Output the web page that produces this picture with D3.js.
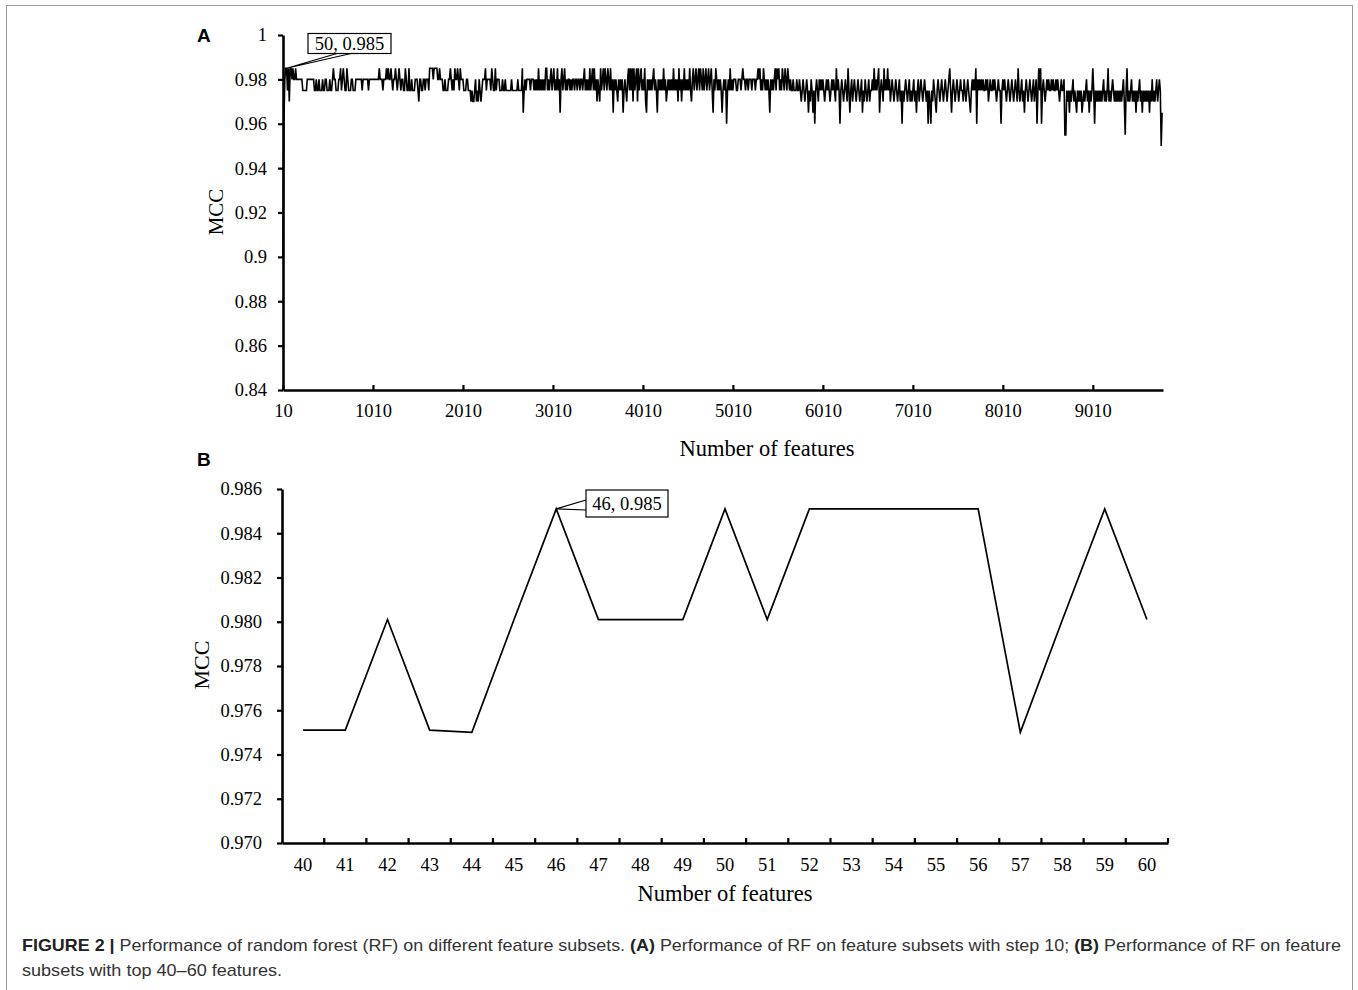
<!DOCTYPE html>
<html><head><meta charset="utf-8">
<script src="https://cdn.jsdelivr.net/npm/d3@7"></script>
<style>body{margin:0;background:#fff} svg{display:block}</style>
</head><body>
<script>
// ---------- Panel A data: MCC for feature subsets 10, 20, ..., 9780 (step 10) ----------
const mccA = [
.90,.96,.98,.985,.985,.975,.985,.97,.985,.985,
.98,.985,.98,.98,.985,.98,.98,.98,.98,.98,
.98,.98,.975,.975,.975,.975,.975,.98,.98,.98,
.98,.98,.98,.98,.98,.975,.975,.98,.975,.975,
.98,.975,.975,.975,.98,.975,.975,.98,.98,.975,
.975,.975,.98,.975,.975,.98,.985,.98,.98,.975,
.975,.975,.98,.98,.985,.975,.98,.985,.98,.975,
.975,.985,.98,.975,.975,.975,.98,.98,.975,.975,
.975,.98,.98,.98,.98,.98,.98,.98,.975,.98,
.98,.98,.98,.98,.98,.975,.98,.98,.98,.98,
.98,.98,.98,.98,.98,.98,.98,.985,.98,.98,
.98,.975,.98,.98,.98,.985,.98,.985,.98,.98,
.985,.98,.975,.98,.98,.985,.98,.975,.98,.985,
.98,.975,.98,.98,.975,.975,.985,.98,.975,.975,
.985,.975,.975,.98,.975,.975,.975,.98,.98,.98,
.975,.97,.98,.98,.975,.975,.98,.98,.975,.98,
.98,.98,.975,.985,.985,.985,.985,.98,.985,.985,
.985,.985,.98,.98,.985,.98,.98,.98,.975,.975,
.98,.975,.975,.975,.98,.98,.985,.98,.975,.98,
.975,.985,.98,.98,.985,.98,.975,.985,.98,.98,
.98,.975,.975,.975,.98,.98,.975,.975,.975,.97,
.975,.97,.97,.975,.98,.97,.975,.97,.98,.975,
.97,.975,.98,.98,.98,.985,.975,.98,.98,.98,
.98,.975,.985,.98,.975,.975,.985,.975,.98,.98,
.98,.975,.975,.975,.98,.975,.975,.98,.975,.975,
.975,.975,.975,.975,.98,.975,.975,.975,.975,.975,
.975,.98,.975,.975,.975,.975,.985,.965,.975,.98,
.975,.98,.98,.98,.98,.975,.98,.98,.98,.975,
.98,.975,.98,.975,.985,.975,.98,.975,.98,.975,
.98,.975,.985,.985,.975,.98,.975,.98,.985,.975,
.98,.985,.975,.98,.975,.985,.975,.98,.965,.98,
.985,.975,.98,.985,.975,.98,.975,.98,.98,.975,
.98,.975,.98,.98,.975,.98,.98,.975,.98,.98,
.975,.98,.98,.975,.98,.985,.975,.98,.975,.98,
.975,.985,.975,.98,.985,.975,.985,.975,.98,.97,
.98,.975,.97,.985,.975,.98,.985,.975,.985,.98,
.975,.985,.98,.975,.985,.975,.98,.965,.98,.975,
.98,.975,.97,.98,.975,.98,.975,.98,.965,.975,
.98,.975,.97,.98,.985,.975,.985,.975,.985,.97,
.985,.975,.98,.985,.97,.985,.975,.98,.985,.975,
.98,.975,.985,.97,.965,.98,.975,.98,.975,.98,
.975,.98,.985,.975,.98,.975,.965,.98,.975,.98,
.975,.98,.975,.985,.975,.98,.97,.975,.98,.975,
.98,.975,.98,.975,.985,.975,.98,.975,.98,.97,
.985,.975,.98,.97,.98,.975,.985,.975,.98,.975,
.98,.975,.985,.975,.97,.98,.985,.975,.98,.985,
.975,.98,.985,.975,.985,.98,.975,.985,.975,.98,
.985,.975,.98,.985,.975,.98,.985,.975,.965,.98,
.975,.985,.98,.975,.98,.975,.98,.975,.965,.975,
.98,.975,.98,.96,.975,.98,.975,.985,.975,.98,
.975,.98,.98,.98,.975,.975,.98,.98,.98,.975,
.98,.985,.98,.98,.975,.98,.98,.975,.98,.98,
.98,.975,.98,.98,.98,.975,.98,.98,.985,.98,
.985,.975,.98,.975,.985,.98,.975,.98,.975,.98,
.975,.965,.98,.975,.98,.975,.98,.985,.975,.985,
.98,.985,.975,.98,.975,.985,.98,.975,.985,.98,
.975,.985,.98,.975,.98,.975,.975,.98,.975,.975,
.975,.98,.975,.975,.98,.975,.97,.975,.98,.975,
.97,.975,.98,.975,.965,.975,.97,.98,.975,.965,
.975,.96,.975,.98,.975,.97,.98,.975,.98,.975,
.98,.975,.97,.975,.98,.975,.98,.975,.97,.975,
.98,.975,.98,.975,.97,.985,.975,.98,.975,.96,
.975,.98,.975,.97,.975,.98,.975,.97,.985,.975,
.965,.975,.98,.97,.975,.98,.975,.97,.975,.98,
.975,.97,.975,.98,.965,.975,.97,.98,.975,.97,
.975,.98,.97,.975,.975,.98,.975,.985,.975,.98,
.975,.98,.985,.965,.975,.98,.975,.97,.985,.975,
.98,.975,.985,.975,.98,.97,.975,.98,.975,.97,
.975,.98,.975,.97,.975,.98,.97,.975,.96,.975,
.97,.975,.98,.975,.97,.975,.98,.97,.975,.97,
.975,.98,.97,.975,.965,.975,.98,.97,.975,.98,
.975,.97,.975,.98,.975,.97,.975,.96,.975,.97,
.96,.975,.97,.98,.975,.97,.965,.975,.98,.975,
.97,.975,.98,.975,.97,.975,.98,.975,.97,.975,
.98,.985,.975,.965,.975,.98,.975,.97,.975,.98,
.975,.97,.975,.98,.975,.975,.97,.98,.975,.97,
.975,.98,.975,.97,.965,.975,.98,.975,.98,.975,
.985,.96,.98,.975,.98,.975,.98,.975,.98,.975,
.975,.98,.975,.98,.97,.975,.98,.975,.975,.98,
.975,.98,.975,.97,.975,.98,.975,.975,.96,.975,
.98,.975,.98,.975,.97,.975,.98,.975,.97,.975,
.98,.975,.97,.975,.98,.975,.97,.985,.975,.97,
.975,.98,.97,.975,.965,.975,.98,.975,.97,.975,
.98,.975,.97,.975,.98,.97,.975,.98,.96,.975,
.985,.975,.985,.96,.975,.98,.975,.97,.975,.98,
.975,.98,.975,.975,.98,.975,.98,.975,.975,.98,
.975,.98,.975,.97,.975,.98,.975,.975,.98,.955,
.955,.975,.97,.975,.965,.975,.97,.975,.98,.97,
.975,.97,.965,.975,.97,.975,.97,.975,.965,.97,
.975,.97,.975,.98,.97,.975,.965,.975,.97,.975,
.985,.975,.96,.975,.97,.975,.97,.975,.97,.975,
.97,.975,.98,.97,.975,.97,.975,.985,.97,.975,
.97,.975,.98,.975,.97,.975,.97,.975,.97,.975,
.97,.975,.97,.975,.98,.97,.955,.975,.985,.97,
.975,.97,.975,.98,.97,.975,.97,.975,.965,.975,
.97,.975,.98,.97,.975,.965,.975,.97,.975,.97,
.975,.97,.975,.965,.975,.97,.98,.97,.975,.97,
.975,.98,.97,.975,.98,.975,.95,.965
];
const featuresA = mccA.map((_, i) => 10 + 10 * i);
const xTicksA = [10, 1010, 2010, 3010, 4010, 5010, 6010, 7010, 8010, 9010];
const yTicksA = [0.84, 0.86, 0.88, 0.90, 0.92, 0.94, 0.96, 0.98, 1];
const peakA = {x: 50, y: 0.985, label: "50, 0.985"};

// ---------- Panel B data: top 40-60 features ----------
const featuresB = [40,41,42,43,44,45,46,47,48,49,50,51,52,53,54,55,56,57,58,59,60];
const mccB = [0.9751,0.9751,0.9801,0.9751,0.9750,0.9801,0.9851,0.9801,0.9801,0.9801,0.9851,
              0.9801,0.9851,0.9851,0.9851,0.9851,0.9851,0.9750,0.9801,0.9851,0.9801];
const yTicksB = [0.970,0.972,0.974,0.976,0.978,0.980,0.982,0.984,0.986];
const peakB = {x: 46, y: 0.9851, label: "46, 0.985"};

const W = 1358, H = 990;
const serif = "'Liberation Serif','Times New Roman',serif";
const sans = "'Liberation Sans',Arial,sans-serif";

const svg = d3.select("body").append("svg").attr("width", W).attr("height", H);

// frame
svg.append("rect").attr("x", 6.5).attr("y", 5.5).attr("width", 1346).attr("height", 1000)
  .attr("fill", "none").attr("stroke", "#9a9a9a").attr("stroke-width", 1);

function styleAxis(g, fs) {
  g.attr("font-family", serif).attr("font-size", fs);
  g.selectAll("path.domain").attr("stroke", "#000").attr("stroke-width", 2.6);
  g.selectAll(".tick line").attr("stroke", "#000").attr("stroke-width", 2.2);
  g.selectAll(".tick text").style("font-family", serif).style("font-size", fs + "px").attr("fill", "#000");
}

// ================= Panel A =================
const xA = d3.scaleLinear().domain([10, 9790]).range([283, 1163]);
const yA = d3.scaleLinear().domain([0.84, 1]).range([390, 35]);

svg.append("path").datum(featuresA.map((f, i) => [f, mccA[i]]))
  .attr("fill", "none").attr("stroke", "#000").attr("stroke-width", 1.6).attr("stroke-linejoin", "miter")
  .attr("d", d3.line().x(d => xA(d[0])).y(d => yA(d[1])));

const gAx = svg.append("g").attr("transform", "translate(0,390)")
  .call(d3.axisBottom(xA).tickValues(xTicksA).tickSize(-5).tickSizeOuter(0).tickPadding(14)
    .tickFormat(d3.format("d")));
styleAxis(gAx, 18.5);
const gAy = svg.append("g").attr("transform", "translate(283,0)")
  .call(d3.axisLeft(yA).tickValues(yTicksA).tickSize(5).tickSizeOuter(0).tickPadding(11)
    .tickFormat(d => String(+d.toFixed(2))));
styleAxis(gAy, 18.5);

svg.append("text").attr("x", 767).attr("y", 456).attr("text-anchor", "middle")
  .attr("font-family", serif).attr("font-size", 22.5).text("Number of features");
svg.append("text").attr("transform", "translate(223,212) rotate(-90)").attr("text-anchor", "middle")
  .attr("font-family", serif).attr("font-size", 21).text("MCC");
svg.append("text").attr("x", 197).attr("y", 42).attr("font-family", sans).attr("font-weight", "bold")
  .attr("font-size", 19).text("A");

// annotation A
{
  const px = xA(peakA.x), py = yA(peakA.y);
  svg.append("path").attr("d", `M337,53.5 L${px},${py} L351,53.5`)
    .attr("fill", "none").attr("stroke", "#000").attr("stroke-width", 1.2);
  svg.append("rect").attr("x", 308).attr("y", 33.5).attr("width", 83).attr("height", 20)
    .attr("fill", "#fff").attr("stroke", "#000").attr("stroke-width", 1.2);
  svg.append("text").attr("x", 349.5).attr("y", 49.5).attr("text-anchor", "middle")
    .attr("font-family", serif).attr("font-size", 18.5).text(peakA.label);
}

// ================= Panel B =================
const xB = d3.scaleBand().domain(featuresB).range([282, 1168]);
const yB = d3.scaleLinear().domain([0.970, 0.986]).range([843, 489]);

svg.append("path").datum(featuresB.map((f, i) => [f, mccB[i]]))
  .attr("fill", "none").attr("stroke", "#000").attr("stroke-width", 1.7)
  .attr("d", d3.line().x(d => xB(d[0]) + xB.bandwidth() / 2).y(d => yB(d[1])));

const gBx = svg.append("g").attr("transform", "translate(0,843)")
  .call(d3.axisBottom(xB).tickSize(0).tickSizeOuter(0).tickPadding(15));
styleAxis(gBx, 18.5);
// boundary ticks (between categories)
svg.append("g").selectAll("line").data(featuresB).join("line")
  .attr("x1", d => xB(d) + xB.bandwidth()).attr("x2", d => xB(d) + xB.bandwidth())
  .attr("y1", 843).attr("y2", 838).attr("stroke", "#000").attr("stroke-width", 2.2);

const gBy = svg.append("g").attr("transform", "translate(282,0)")
  .call(d3.axisLeft(yB).tickValues(yTicksB).tickSize(5).tickSizeOuter(0).tickPadding(15)
    .tickFormat(d3.format(".3f")));
styleAxis(gBy, 18.5);

svg.append("text").attr("x", 725).attr("y", 901).attr("text-anchor", "middle")
  .attr("font-family", serif).attr("font-size", 22.5).text("Number of features");
svg.append("text").attr("transform", "translate(209,665) rotate(-90)").attr("text-anchor", "middle")
  .attr("font-family", serif).attr("font-size", 22).text("MCC");
svg.append("text").attr("x", 197).attr("y", 466).attr("font-family", sans).attr("font-weight", "bold")
  .attr("font-size", 19).text("B");

// annotation B
{
  const px = xB(peakB.x) + xB.bandwidth() / 2, py = yB(peakB.y);
  svg.append("path").attr("d", `M586,500 L${px},${py} L586,510`)
    .attr("fill", "none").attr("stroke", "#000").attr("stroke-width", 1.2);
  svg.append("rect").attr("x", 586).attr("y", 490).attr("width", 82).attr("height", 27)
    .attr("fill", "#fff").attr("stroke", "#000").attr("stroke-width", 1.2);
  svg.append("text").attr("x", 627).attr("y", 510).attr("text-anchor", "middle")
    .attr("font-family", serif).attr("font-size", 18.5).text(peakB.label);
}

// ================= Caption =================
const cap1 = svg.append("text").attr("x", 22).attr("y", 951).attr("font-family", sans)
  .attr("font-size", 17).attr("fill", "#333").attr("textLength", 1319).attr("lengthAdjust", "spacingAndGlyphs");
cap1.append("tspan").attr("font-weight", "bold").attr("fill", "#222").text("FIGURE 2 | ");
cap1.append("tspan").text("Performance of random forest (RF) on different feature subsets. ");
cap1.append("tspan").attr("font-weight", "bold").attr("fill", "#222").text("(A)");
cap1.append("tspan").text(" Performance of RF on feature subsets with step 10; ");
cap1.append("tspan").attr("font-weight", "bold").attr("fill", "#222").text("(B)");
cap1.append("tspan").text(" Performance of RF on feature");
svg.append("text").attr("x", 22).attr("y", 976).attr("font-family", sans)
  .attr("font-size", 17).attr("fill", "#333").attr("textLength", 260).attr("lengthAdjust", "spacingAndGlyphs")
  .text("subsets with top 40–60 features.");
</script>
</body></html>
